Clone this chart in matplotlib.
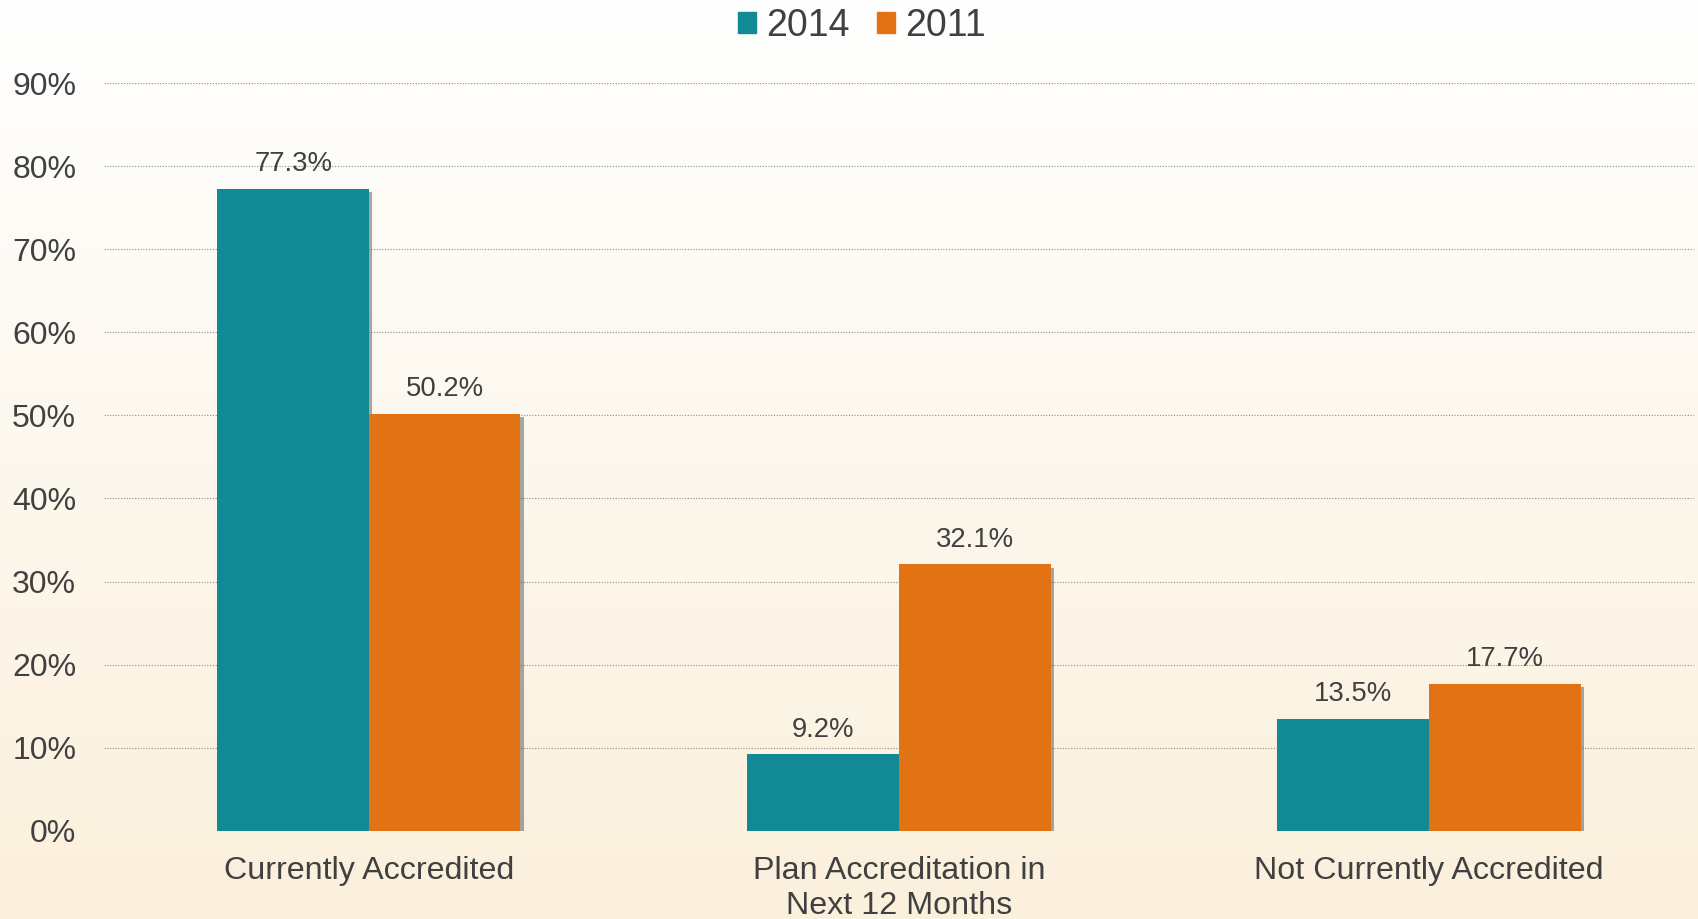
import numpy as np
import matplotlib
matplotlib.use('Agg')
import matplotlib.pyplot as plt
import matplotlib.patheffects as pe
from matplotlib.patches import Patch

categories = ['Currently Accredited', 'Plan Accreditation in\nNext 12 Months', 'Not Currently Accredited']
series_names = ['2014', '2011']
vals_2014 = [77.3, 9.2, 13.5]
vals_2011 = [50.2, 32.1, 17.7]
colors = ['#118A96', '#E27314']
yticks = [0, 10, 20, 30, 40, 50, 60, 70, 80, 90]

plt.rcParams['font.family'] = ['Liberation Sans', 'DejaVu Sans']
txt = '#404040'

fig = plt.figure(figsize=(16.98, 9.19), dpi=100)

# background gradient white -> cream
bg = fig.add_axes([0, 0, 1, 1], zorder=-10)
grad = np.linspace(0, 1, 256)[:, None]
top = np.array([255, 255, 255]) / 255.0
bot = np.array([251, 240, 220]) / 255.0
img = top[None, None, :] * (1 - grad[:, :, None]) + bot[None, None, :] * grad[:, :, None]
bg.imshow(img, aspect='auto', extent=[0, 1, 0, 1])
bg.axis('off')

ax = fig.add_axes([0.0612, 0.0962, 0.9364, 0.8131])
ax.patch.set_alpha(0)

x = np.arange(len(categories))
w = 0.286
shadow = [pe.SimplePatchShadow(offset=(2.5, -2.5), shadow_rgbFace='#555555', alpha=0.5), pe.Normal()]
b1 = ax.bar(x - w / 2, vals_2014, w, color=colors[0], label=series_names[0], zorder=3)
b2 = ax.bar(x + w / 2, vals_2011, w, color=colors[1], label=series_names[1], zorder=3)
for bars in (b1, b2):
    for r in bars:
        r.set_path_effects(shadow)
        ax.annotate('%.1f%%' % r.get_height(), (r.get_x() + r.get_width() / 2, r.get_height()),
                    xytext=(0, 12.5), textcoords='offset points', ha='center', va='baseline',
                    fontsize=19.8, color=txt, zorder=4)

ax.set_xlim(-0.5, 2.5)
ax.set_ylim(0, 90)
ax.set_yticks(yticks)
ax.set_yticklabels(['%d%%' % t for t in yticks], fontsize=23, color=txt)
ax.set_xticks(x)
ax.set_xticklabels(categories, fontsize=23.2, color=txt, linespacing=1.22)
ax.tick_params(axis='y', length=0, pad=20)
ax.tick_params(axis='x', length=0, pad=18.5)
for s in ax.spines.values():
    s.set_visible(False)
ax.yaxis.grid(True, linestyle=(0, (1, 1.5)), color='#8c8c8c', linewidth=0.8, zorder=0)
ax.set_axisbelow(True)

handles = [Patch(color=c) for c in colors]
fig.legend(handles=handles, labels=series_names, loc='center', bbox_to_anchor=(862 / 1698, 1 - 26 / 919),
           ncol=2, frameon=False, fontsize=27, handlelength=0.48, handleheight=0.48,
           handletextpad=0.25, columnspacing=0.75, labelcolor=txt)

fig.savefig('out.png', dpi=100)
